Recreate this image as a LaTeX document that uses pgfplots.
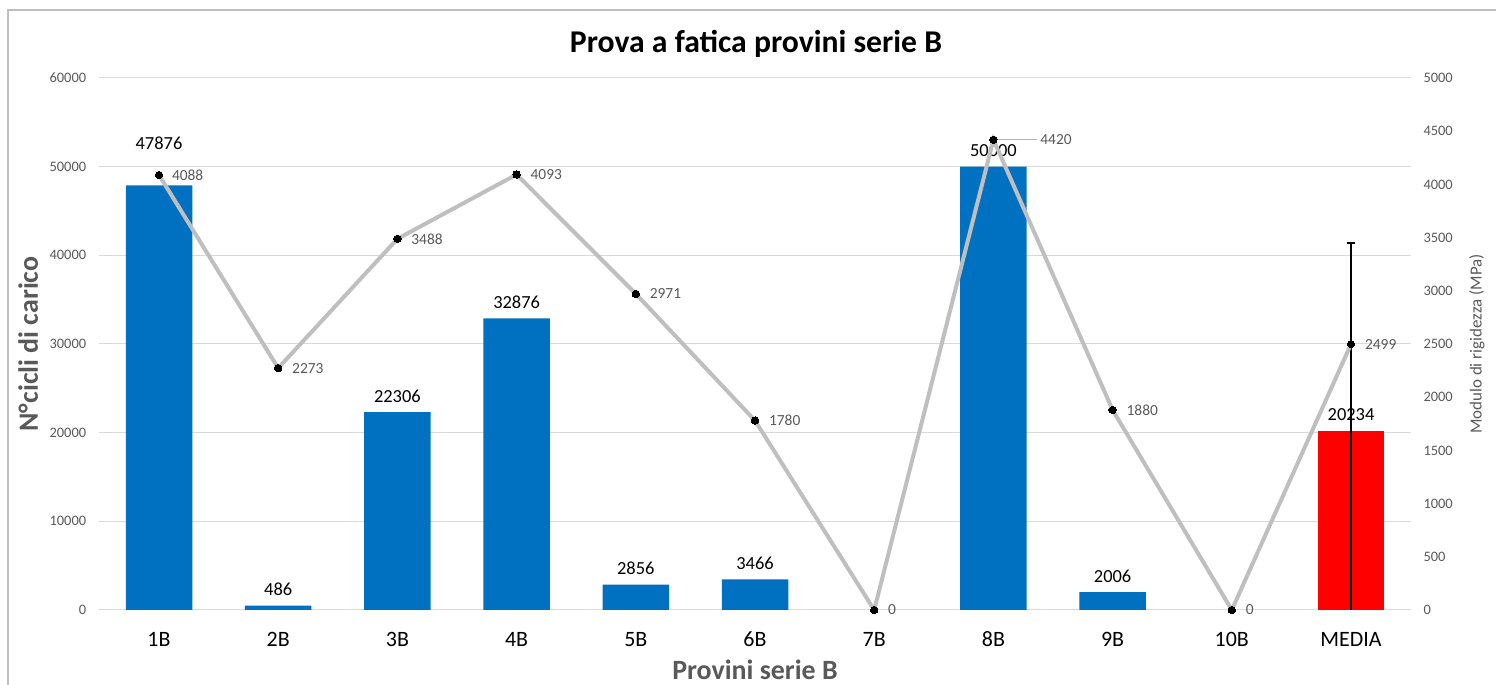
\documentclass[border=0pt]{standalone}
\usepackage{pgfplots}
\pgfplotsset{compat=1.18}
\usepackage{pgfplotstable}
\usepackage{fontspec}
\setmainfont{Carlito}
\definecolor{barblue}{HTML}{0070C0}
\definecolor{txtgray}{HTML}{595959}
\definecolor{gridgray}{HTML}{D9D9D9}
\definecolor{linegray}{HTML}{BFBFBF}
\definecolor{framegray}{HTML}{BFBFBF}

\pgfplotstableread{
x y off
0 47876 26
1 486 0
2 22306 0
3 32876 0
4 2856 0
5 3466 0
7 50000 0
8 2006 0
}\bardata
\pgfplotstableread{
x y dx
0 4088 13
1 2273 14
2 3488 14
3 4093 14
4 2971 14
5 1780 14
6 0 14
7 4420 47
8 1880 14
9 0 14
10 2499 14
}\linedata

\begin{document}
\begin{tikzpicture}[x=1bp,y=1bp]
\useasboundingbox (0,0) rectangle (1496,685);
\draw[framegray, line width=1.2bp] (8,-5) -- (8,675) -- (1510,675);
\node[anchor=base, font=\bfseries\fontsize{31.8}{36}\selectfont] at (756,632) {Prova a fatica provini serie B};

\begin{axis}[
  at={(99.4bp,75bp)}, anchor=south west,
  scale only axis, width=1311.2bp, height=532bp,
  xmin=-0.5, xmax=10.5, ymin=0, ymax=60000,
  xtick={0,...,10}, xticklabels={1B,2B,3B,4B,5B,6B,7B,8B,9B,10B,MEDIA},
  ytick={0,10000,...,60000},
  axis line style={draw=none},
  major tick length=0,
  ymajorgrids, grid style={gridgray, line width=1bp},
  /pgf/number format/assume math mode=true,
  /pgf/number format/set thousands separator={},
  scaled y ticks=false,
  yticklabel style={font=\fontsize{14.5}{16}\selectfont, text=txtgray, anchor=east, inner sep=0pt, xshift=-13bp},
  xticklabel style={font=\fontsize{22}{24}\selectfont, anchor=base, inner sep=0pt, yshift=-37bp},
  xlabel={Provini serie B},
  xlabel style={font=\bfseries\fontsize{28}{32}\selectfont, text=txtgray, at={(axis description cs:0.5,-0.13158)}, anchor=base, inner sep=0pt},
  ylabel={N°cicli di carico},
  ylabel style={font=\bfseries\fontsize{28}{32}\selectfont, text=txtgray, at={(axis description cs:-0.04683,0.5)}, anchor=base, inner sep=0pt},
]
\addplot[fill=barblue, draw=none, ybar, bar width=66.5bp, bar shift=0pt,
  visualization depends on={\thisrow{off} \as \myoff},
  nodes near coords,
  nodes near coords style={anchor=center, inner sep=0pt, text=black, font=\fontsize{18.5}{20}\selectfont, yshift={16bp+\myoff*1bp}}]
  table[x=x, y=y] {\bardata};
\addplot[fill=red, draw=none, ybar, bar width=66.5bp, bar shift=0pt,
  nodes near coords,
  nodes near coords style={anchor=center, inner sep=0pt, text=black, font=\fontsize{18.5}{20}\selectfont, yshift=16bp},
  error bars/.cd, y dir=plus, y explicit,
  error bar style={black, line width=1.3bp},
  error mark options={rotate=90, black, mark size=4bp, line width=1.3bp}]
  coordinates {(10,20234) += (0,21157)};
\addplot[draw=none, forget plot,
  error bars/.cd, y dir=minus, y explicit, error mark=none,
  error bar style={black, line width=1.3bp}]
  coordinates {(10,20234) -= (0,20234)};
\end{axis}

\begin{axis}[
  at={(99.4bp,75bp)}, anchor=south west,
  scale only axis, width=1311.2bp, height=532bp,
  xmin=-0.5, xmax=10.5, ymin=0, ymax=5000,
  axis x line=none, axis y line*=right,
  axis line style={draw=none},
  major tick length=0,
  clip=false,
  ytick={0,500,...,5000},
  /pgf/number format/assume math mode=true,
  /pgf/number format/set thousands separator={},
  scaled y ticks=false,
  yticklabel style={font=\fontsize{14.5}{16}\selectfont, text=txtgray, anchor=west, inner sep=0pt, xshift=12.7bp},
  ylabel={Modulo di rigidezza (MPa)},
  ylabel style={font=\fontsize{17}{19}\selectfont, text=txtgray, at={(axis description cs:1.0541,0.5)}, anchor=base, rotate=0, inner sep=0pt},
]
\addplot[linegray, line width=4bp, mark=*, mark size=3.7bp,
  mark options={black, fill=black, line width=0pt},
  visualization depends on={\thisrow{dx} \as \mydx},
  nodes near coords,
  nodes near coords style={anchor=west, inner sep=0pt, text=txtgray, font=\fontsize{15.5}{17}\selectfont, xshift={\mydx*1bp}, yshift=0bp}]
  table[x=x, y=y] {\linedata};
\draw[linegray!80!gray, line width=1.2bp] (axis cs:7,4420) -- ([xshift=44bp]axis cs:7,4420);
\end{axis}
\end{tikzpicture}
\end{document}
